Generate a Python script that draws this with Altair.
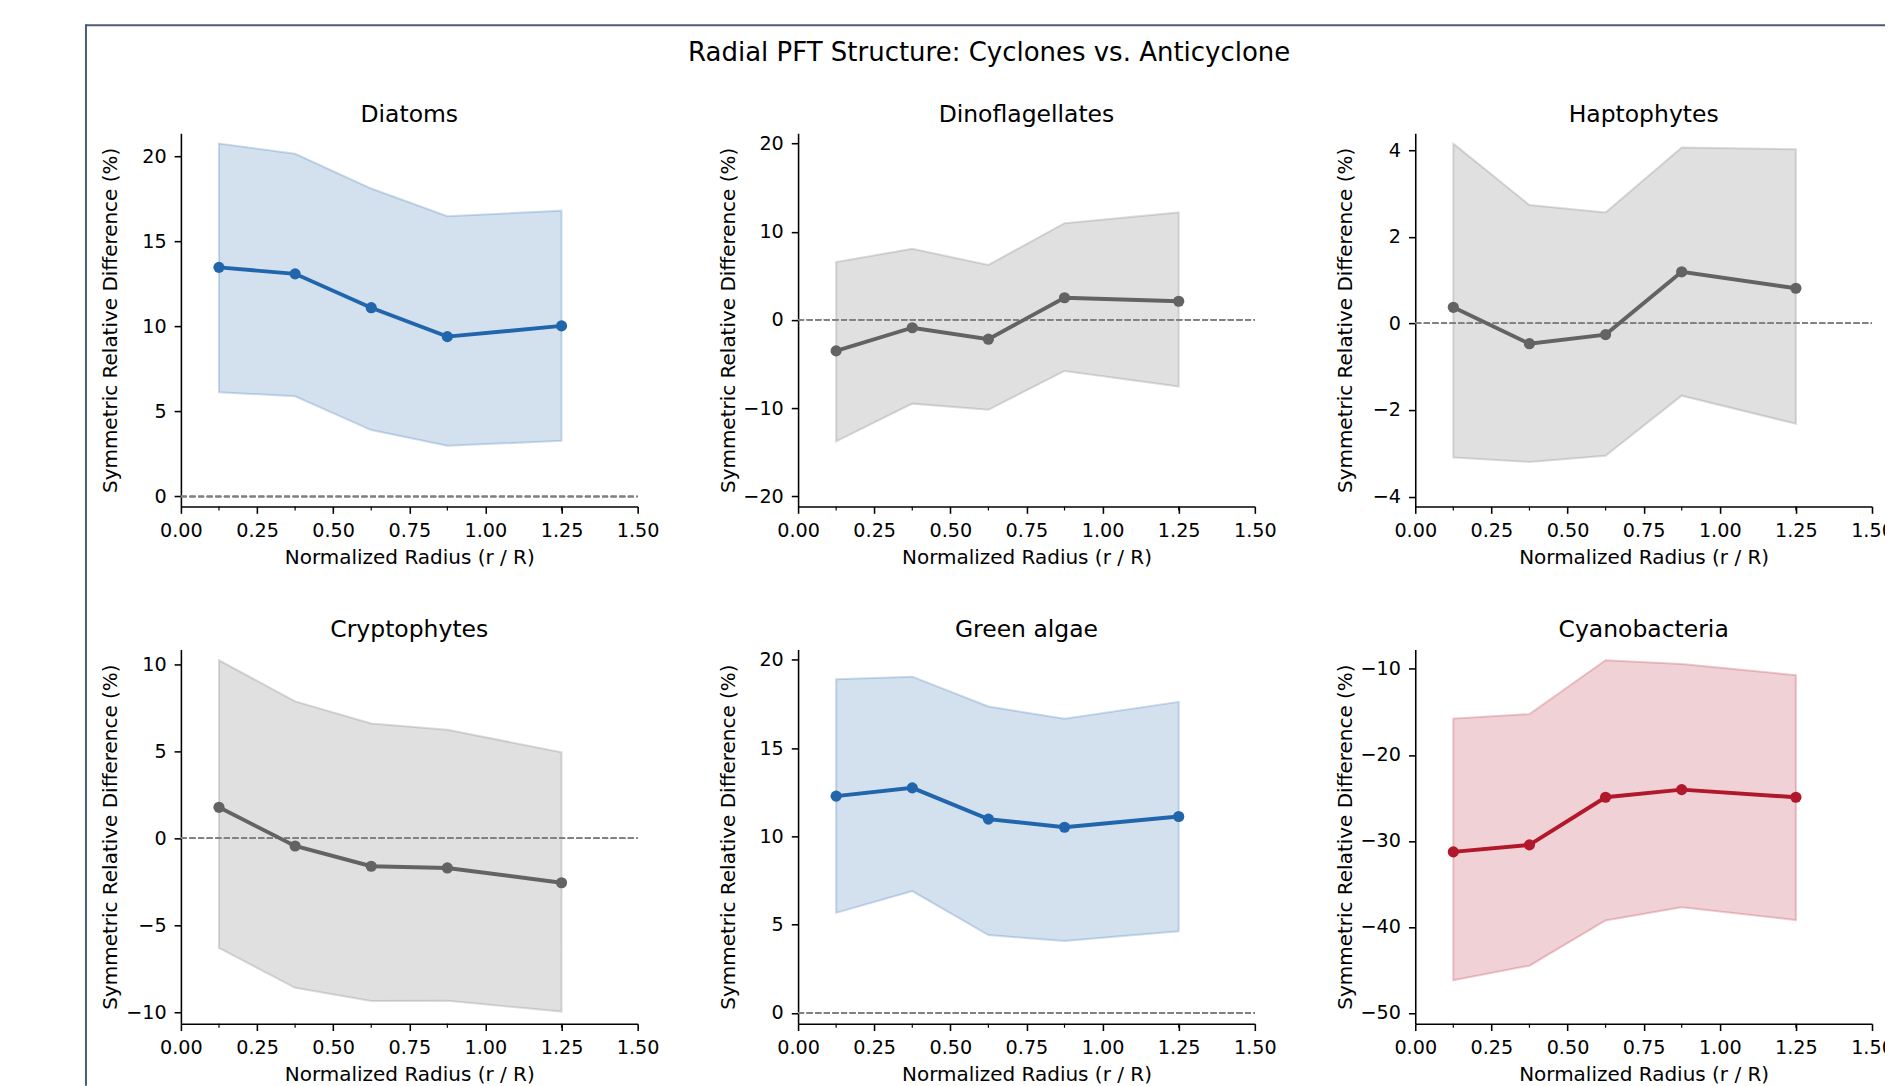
import altair as alt
import pandas as pd

# ---------------- data ----------------
RADIUS = [0.125, 0.375, 0.625, 0.875, 1.25]
X_TICKS = [0.0, 0.25, 0.5, 0.75, 1.0, 1.25, 1.5]

SUPTITLE = "Radial PFT Structure: Cyclones vs. Anticyclone"
PFT_NAMES = ["Diatoms", "Dinoflagellates", "Haptophytes",
             "Cryptophytes", "Green algae", "Cyanobacteria"]

diatoms_mean = [13.46, 13.08, 11.09, 9.39, 10.02]
diatoms_lo = [6.12, 5.89, 3.90, 2.98, 3.27]
diatoms_hi = [20.73, 20.13, 18.09, 16.46, 16.79]

dino_mean = [-3.52, -0.89, -2.19, 2.51, 2.11]
dino_lo = [-13.77, -9.5, -10.2, -5.79, -7.57]
dino_hi = [6.56, 8.06, 6.23, 10.97, 12.19]

hapto_mean = [0.37, -0.47, -0.26, 1.19, 0.81]
hapto_lo = [-3.10, -3.20, -3.06, -1.67, -2.32]
hapto_hi = [4.15, 2.73, 2.56, 4.06, 4.02]

crypto_mean = [1.78, -0.44, -1.60, -1.70, -2.55]
crypto_lo = [-6.29, -8.58, -9.34, -9.32, -9.94]
crypto_hi = [10.22, 7.86, 6.59, 6.23, 4.94]

green_mean = [12.28, 12.75, 10.98, 10.52, 11.13]
green_lo = [5.67, 6.90, 4.41, 4.08, 4.63]
green_hi = [18.90, 19.05, 17.36, 16.67, 17.62]

cyano_mean = [-31.27, -30.46, -24.92, -24.03, -24.92]
cyano_lo = [-46.19, -44.50, -39.24, -37.70, -39.20]
cyano_hi = [-15.78, -15.26, -8.99, -9.43, -10.73]

MEANS = [diatoms_mean, dino_mean, hapto_mean, crypto_mean, green_mean, cyano_mean]
LOWS = [diatoms_lo, dino_lo, hapto_lo, crypto_lo, green_lo, cyano_lo]
HIGHS = [diatoms_hi, dino_hi, hapto_hi, crypto_hi, green_hi, cyano_hi]

Y_DOMAINS = [[-0.59, 21.34], [-21.17, 21.17], [-4.23, 4.39],
             [-10.64, 10.84], [-0.61, 20.59], [-51.25, -7.74]]
Y_TICKS = [[0, 5, 10, 15, 20], [-20, -10, 0, 10, 20], [-4, -2, 0, 2, 4],
           [-10, -5, 0, 5, 10], [0, 5, 10, 15, 20], [-50, -40, -30, -20, -10]]

BLUE = "#2166ac"
GRAY = "#636363"
RED = "#b2182b"
COLORS = [BLUE, GRAY, GRAY, GRAY, BLUE, RED]
FRAME = "#4b5a77"

# ---------------- layout ----------------
W = 457
HEIGHTS = [373.5, 373.5, 373.5, 374.5, 374.5, 374.5]
TITLE_DY = [22, 22, 22, 21.5, 21.5, 21.5]
FONT = "DejaVu Sans"


def panel(name, mean, lo, hi, color, domain, ticks, H, tdy):
    df = pd.DataFrame({"r": RADIUS, "mean": mean, "lo": lo, "hi": hi})
    base = alt.Chart(df)
    xscale = alt.Scale(domain=[0, 1.5], nice=False, zero=False)
    yscale = alt.Scale(domain=domain, nice=False, zero=False)
    xaxis = alt.Axis(values=X_TICKS, format=".2f", title="Normalized Radius (r / R)",
                     labelPadding=8, labelFlush=False, labelOverlap=False,
                     titleX=W / 2, titleY=51, titleBaseline="middle",
                     titleAlign="center")
    yaxis = alt.Axis(values=ticks, title="Symmetric Relative Difference (%)",
                     labelPadding=8, labelFlush=False, labelOverlap=False,
                     titleX=-70, titleY=H / 2, titleAngle=270,
                     titleBaseline="middle", titleAlign="center")
    x = alt.X("r:Q", scale=xscale, axis=xaxis)

    layers = []
    layers.append(base.mark_area(color=color, fillOpacity=0.2, stroke=color,
                                 strokeOpacity=0.22, strokeWidth=2).encode(
        x=x, y=alt.Y("lo:Q", scale=yscale, axis=yaxis), y2="hi:Q"))
    if domain[0] <= 0 <= domain[1]:
        layers.append(base.mark_rule(color="#808080", strokeWidth=1.5,
                                     strokeDash=[6, 2.6]).encode(
            x=alt.datum(0, scale=xscale, axis=xaxis), x2=alt.datum(1.5),
            y=alt.datum(0, scale=yscale, axis=yaxis)))
    layers.append(base.mark_rule(color="black", strokeWidth=1.2).encode(
        x=x, y=alt.value(H), y2=alt.value(H + 4)))
    layers.append(base.mark_line(color=color, strokeWidth=3.9).encode(
        x=x, y=alt.Y("mean:Q", scale=yscale, axis=yaxis)))
    layers.append(base.mark_circle(color=color, size=125, opacity=1).encode(
        x=x, y=alt.Y("mean:Q", scale=yscale, axis=yaxis)))

    return alt.layer(*layers).properties(
        width=W, height=H,
        title=alt.TitleParams(text=name, fontSize=23.5, fontWeight="normal",
                              font=FONT, color="black", anchor="middle",
                              offset=10, dy=tdy, baseline="alphabetic"))


panels = [panel(PFT_NAMES[i], MEANS[i], LOWS[i], HIGHS[i], COLORS[i],
                Y_DOMAINS[i], Y_TICKS[i], HEIGHTS[i], TITLE_DY[i]) for i in range(6)]

grid = alt.concat(*panels, columns=3, bounds="flush",
                  spacing={"row": 142.5, "column": 160.5})

header_df = pd.DataFrame({"t": [SUPTITLE]})
hb = alt.Chart(header_df)
# page frame (top and left borders); the top border runs past the right edge
top_line = hb.mark_rule(color=FRAME, strokeWidth=2).encode(
    x=alt.value(-95), x2=alt.value(1730), y=alt.value(0))
left_line = hb.mark_rule(color=FRAME, strokeWidth=2).encode(
    x=alt.value(-95), y=alt.value(-1), y2=alt.value(1061))
sup = hb.mark_text(fontSize=26, align="center", baseline="alphabetic",
                   color="black", font=FONT).encode(
    x=alt.value(808.7), y=alt.value(35.7), text="t:N")
header = alt.layer(top_line, left_line, sup).properties(width=3 * W + 2 * 160.5, height=60)

chart = alt.vconcat(header, grid, spacing=48, bounds="flush").properties(
    padding={"left": 77, "top": 15, "right": -26, "bottom": 0}
).configure(font=FONT).configure_view(strokeWidth=0).configure_axis(
    grid=False, domainColor="black", domainWidth=1.56, tickColor="black",
    tickWidth=1.56, tickSize=6.8, labelFontSize=19.2, titleFontSize=20,
    titleFontWeight="normal", labelColor="black", titleColor="black",
    labelFont=FONT, titleFont=FONT)

chart.save("out.html", embed_options={"renderer": "svg", "actions": False})
